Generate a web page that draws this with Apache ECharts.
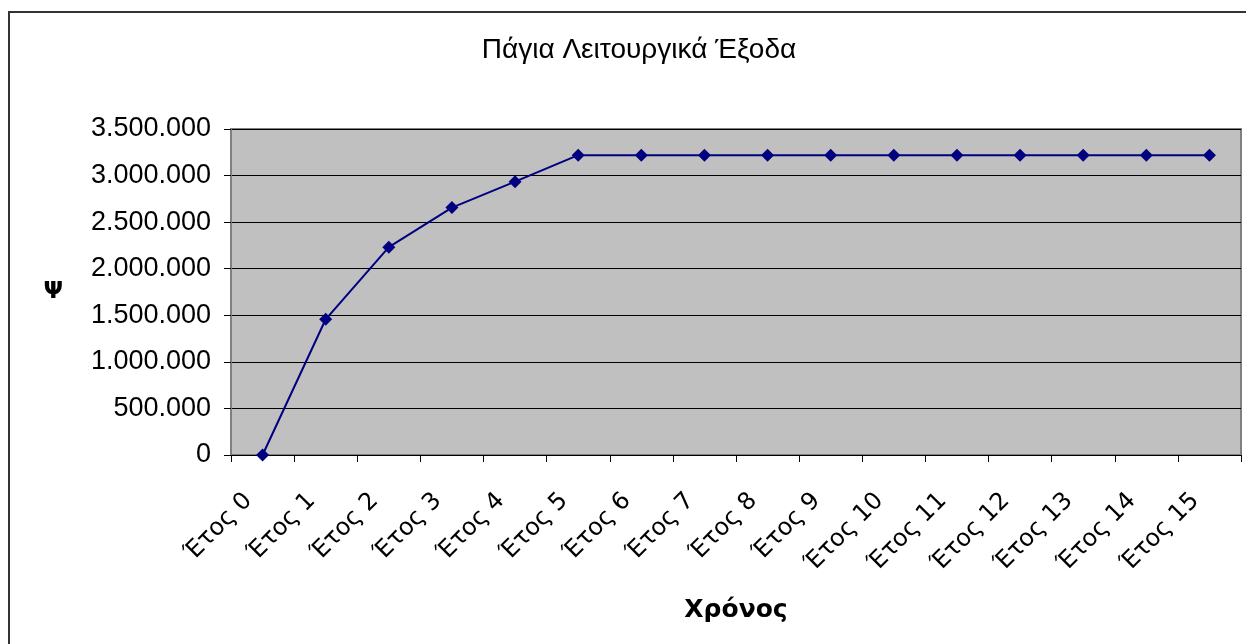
<!DOCTYPE html>
<html>
<head>
<meta charset="utf-8">
<script src="https://cdn.jsdelivr.net/npm/echarts@6/dist/echarts.min.js"></script>
<style>
  html, body { margin: 0; padding: 0; background: #ffffff; }
  #chart { width: 1246px; height: 644px; }
</style>
</head>
<body>
<div id="chart"></div>
<script>
// Fixed operating expenses per year
const titleText = 'Πάγια Λειτουργικά Έξοδα';
const xAxisName = 'Χρόνος';
const yAxisName = 'Ψ';
const years = ['Έτος 0', 'Έτος 1', 'Έτος 2', 'Έτος 3', 'Έτος 4', 'Έτος 5', 'Έτος 6', 'Έτος 7',
               'Έτος 8', 'Έτος 9', 'Έτος 10', 'Έτος 11', 'Έτος 12', 'Έτος 13', 'Έτος 14', 'Έτος 15'];
const expenses = [0, 1457000, 2231000, 2656000, 2935000, 3219000, 3219000, 3219000,
                  3219000, 3219000, 3219000, 3219000, 3219000, 3219000, 3219000, 3219000];
const yMin = 0;
const yMax = 3500000;
const yStep = 500000;

// Greek-style thousands separator: 3.500.000
function formatThousands(v) {
  return String(Math.round(v)).replace(/\B(?=(\d{3})+(?!\d))/g, '.');
}

const chart = echarts.init(document.getElementById('chart'));
chart.setOption({
  animation: false,
  backgroundColor: '#ffffff',
  graphic: [{
    type: 'rect',
    shape: { x: 9, y: 12, width: 1400, height: 800 },
    style: { fill: 'none', stroke: '#333333', lineWidth: 2 },
    silent: true,
    z: 100
  }],
  title: {
    text: titleText,
    left: 634,
    top: 31,
    textAlign: 'center',
    textStyle: { fontFamily: 'Liberation Sans', fontSize: 28, fontWeight: 'normal', color: '#000000' }
  },
  grid: {
    left: 231, right: 5, top: 129, bottom: 189,
    show: true,
    backgroundColor: '#c0c0c0',
    borderColor: '#808080',
    borderWidth: 2
  },
  xAxis: {
    type: 'category',
    data: years,
    boundaryGap: true,
    name: xAxisName,
    nameLocation: 'middle',
    nameGap: 143,
    nameTextStyle: { fontFamily: 'DejaVu Sans', fontSize: 25, fontWeight: 'bold', color: '#000000' },
    axisLine: { lineStyle: { color: '#000000', width: 1 } },
    axisTick: { show: true, alignWithLabel: false, length: 7, lineStyle: { color: '#000000' } },
    axisLabel: {
      rotate: 45,
      interval: 0,
      margin: 28,
      padding: [0, 20, 0, 0],
      fontFamily: 'DejaVu Sans',
      fontSize: 24,
      color: '#000000'
    },
    splitLine: { show: false }
  },
  yAxis: {
    type: 'value',
    min: yMin,
    max: yMax,
    interval: yStep,
    name: yAxisName,
    nameLocation: 'middle',
    nameRotate: 0,
    nameGap: 168,
    nameTextStyle: { fontFamily: 'DejaVu Sans', fontSize: 23, fontWeight: 'bold', color: '#000000' },
    axisLine: { show: true, lineStyle: { color: '#808080', width: 2 } },
    axisTick: { show: true, length: 7, lineStyle: { color: '#000000' } },
    axisLabel: {
      margin: 20,
      fontFamily: 'Liberation Sans',
      fontSize: 27,
      color: '#000000',
      formatter: formatThousands
    },
    splitLine: { show: true, lineStyle: { color: '#000000', width: 1 } }
  },
  series: [{
    type: 'line',
    data: expenses,
    symbol: 'diamond',
    symbolSize: 13,
    lineStyle: { color: '#000080', width: 2 },
    itemStyle: { color: '#000080' },
    z: 5
  }]
});
</script>
</body>
</html>
